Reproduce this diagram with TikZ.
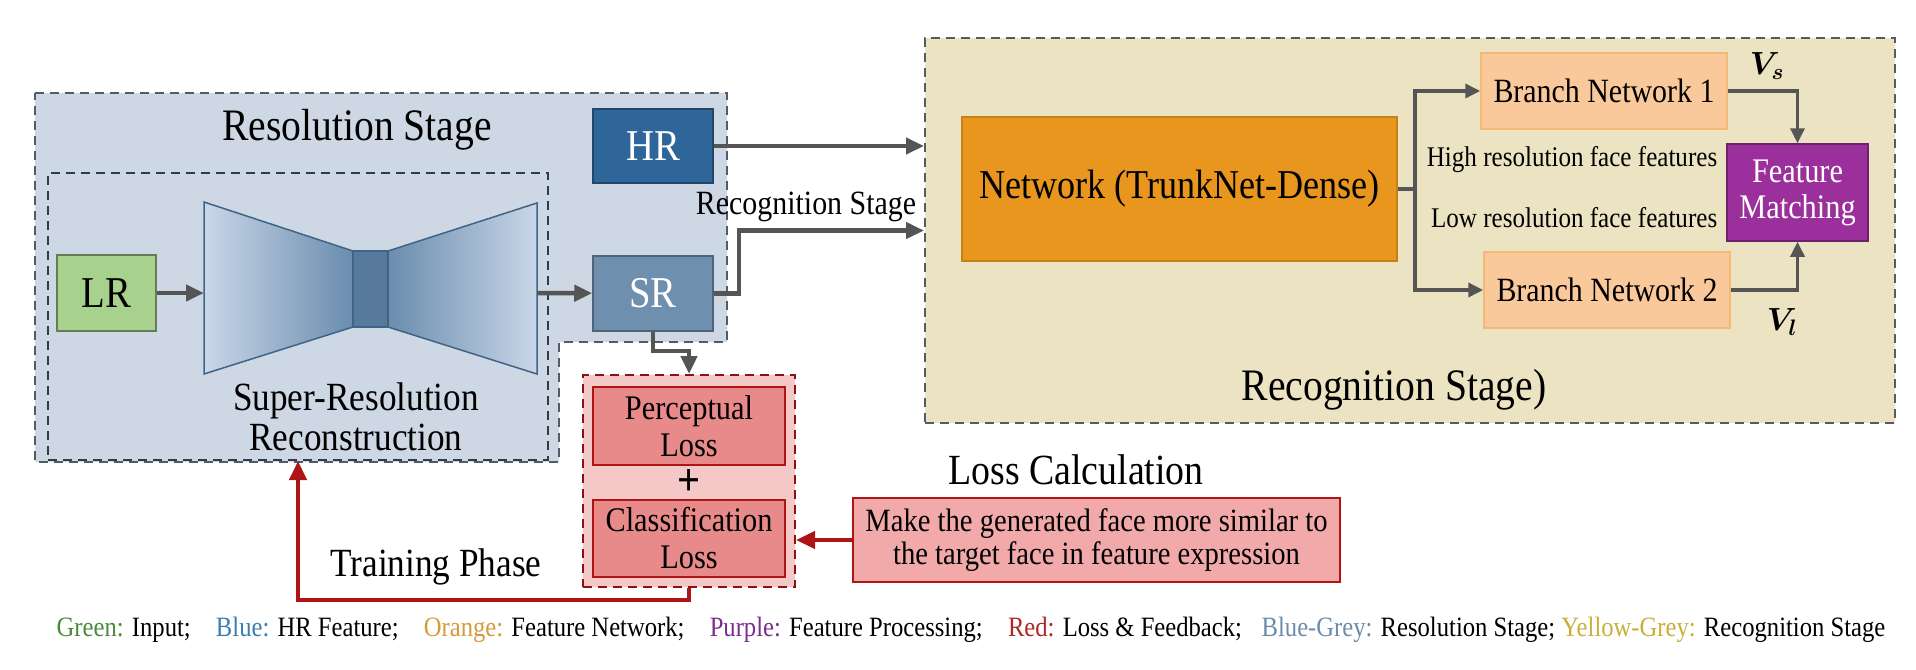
\RequirePackage{fix-cm}
\documentclass[tikz,border=0pt]{standalone}
\usepackage{fontspec}
\setmainfont{Liberation Serif}[FakeStretch=0.88]
\usepackage{bm}
\usetikzlibrary{arrows.meta, positioning, calc}
\definecolor{cresfill}{HTML}{CDD8E4}
\definecolor{crecfill}{HTML}{ECE3C3}
\definecolor{cdash}{HTML}{555B62}
\definecolor{cdashin}{HTML}{2E3B4A}
\definecolor{chr}{HTML}{2F6699}
\definecolor{csr}{HTML}{6F8FAF}
\definecolor{clr}{HTML}{A9D18E}
\definecolor{ctrunk}{HTML}{E8961E}
\definecolor{cbranch}{HTML}{F9C89B}
\definecolor{cfm}{HTML}{9B2F9B}
\definecolor{closs}{HTML}{E88A8A}
\definecolor{clossgrp}{HTML}{F5C8C8}
\definecolor{cmsg}{HTML}{F2A9A9}
\definecolor{cred}{HTML}{B01515}
\definecolor{cgrey}{HTML}{555555}
\definecolor{cbowlight}{HTML}{C9D7E8}
\definecolor{cbowdark}{HTML}{6A8CAE}
\definecolor{cbowmid}{HTML}{56799C}
\definecolor{cbowedge}{HTML}{3F6486}
\definecolor{lgreen}{HTML}{4A8A3A}
\definecolor{lblue}{HTML}{3C7DB0}
\definecolor{lorange}{HTML}{D59A3A}
\definecolor{lpurple}{HTML}{7A2E8E}
\definecolor{lred}{HTML}{B02525}
\definecolor{lbluegrey}{HTML}{6A8BAA}
\definecolor{lyellowgrey}{HTML}{C9AE3C}
\newcommand{\fsz}[2]{\fontsize{#1}{#2}\selectfont}
\tikzset{
  every picture/.style={line width=1.5pt},
  box/.style={draw=#1!70!black, fill=#1, inner sep=0pt, align=center, line width=1.5pt},
  stage/.style={draw=cdash, dash pattern=on 9pt off 6pt, line width=2pt},
  txt/.style={inner sep=0pt, align=center, font=\fsz{#1}{#1}},
  arrow/.style={-{Triangle[length=18pt, width=16pt]}, draw=cgrey, line width=4.5pt},
  branch/.style={-{Triangle[length=15pt, width=14pt]}, draw=cgrey, line width=3.5pt},
  feedback/.style={-{Triangle[length=19pt, width=17pt]}, draw=cred, line width=4.5pt},
}

\begin{document}
\begin{tikzpicture}[x=1pt, y=-1pt]
  \useasboundingbox (0,0) rectangle (1916,669);
  % resolution stage
  \draw[stage, fill=cresfill] (35,93) -- (727,93) -- (727,342) -- (559,342) -- (559,462) -- (35,462) -- cycle;
  \node[stage, draw=cdashin, fill=cresfill, minimum width=500pt, minimum height=287pt] (srrec) at (298,316.5) {};
  \node[txt=45] (restitle) at (357,130) {Resolution Stage};
  \node[box=clr, draw=clr!60!black, minimum width=99pt, minimum height=76pt, font=\fsz{44}{44}] (lr) at (106.5,293) {LR};
  \shadedraw[left color=cbowlight, right color=cbowdark, draw=cbowedge] (204,202) -- (353,251) -- (353,327) -- (204,374) -- cycle;
  \filldraw[fill=cbowmid, draw=cbowedge] (353,251) rectangle (388,327);
  \shadedraw[left color=cbowdark, right color=cbowlight, draw=cbowedge] (388,251) -- (537,203) -- (537,374) -- (388,327) -- cycle;
  \coordinate (bwin) at (204,293);
  \coordinate (bwout) at (537,293);
  \node[txt=40, font=\fsz{40}{40}] (srtext) at (356,417) {Super-Resolution\\Reconstruction};
  \node[box=chr, minimum width=120pt, minimum height=74pt, text=white, font=\fsz{44}{44}] (hr) at (653,146) {HR};
  \node[box=csr, minimum width=120pt, minimum height=75pt, text=white, font=\fsz{44}{44}] (sr) at (653,293.5) {SR};
  \draw[arrow] (lr) -- (bwin);
  \draw[arrow] (bwout) -- (sr);

  \node[stage, fill=crecfill, minimum width=970pt, minimum height=385pt] (recog) at (1410,230.5) {};
  \node[txt=34] (midtitle) at (806,207) {Recognition Stage};
  \draw[arrow] (hr.east) -- (recog.west |- hr.east);
  \draw[arrow] (sr.east) -- ++(25,0) |- (recog.west);

  \node[box=ctrunk, draw=ctrunk!85!black, minimum width=435pt, minimum height=144pt, font=\fsz{41}{41}] (trunk) at (1179.5,189) {Network (TrunkNet-Dense)};
  \node[box=cbranch, draw=cbranch!70!ctrunk, minimum width=246pt, minimum height=76pt, font=\fsz{34}{34}] (br1) at (1604,91) {Branch Network 1};
  \node[box=cbranch, draw=cbranch!70!ctrunk, minimum width=246pt, minimum height=76pt, font=\fsz{34}{34}] (br2) at (1607,290) {Branch Network 2};
  \node[box=cfm, minimum width=141pt, minimum height=97pt, text=white, font=\fsz{34.5}{36}] (fm) at (1797.5,192.5) {Feature\\Matching};
  \draw[branch] (trunk.east) -- ++(17,0) coordinate (fork) |- (br1.west);
  \draw[branch] (fork) |- (br2.west);
  \draw[branch] (br1.east) -| (fm.north);
  \draw[branch] (br2.east) -| (fm.south);
  \node[txt=28.5, anchor=east] (hifeat) at (1718,160) {High resolution face features};
  \node[txt=28.5, anchor=east] (lofeat) at (1718,218) {Low resolution face features};
  \node[txt=32] (vs) at (1767,66) {$\bm{V_s}$};
  \node[txt=32] (vl) at (1782,322) {$\bm{V_l}$};
  \node[txt=45] (rectitle) at (1394,390) {Recognition Stage)};

  \node[stage, draw=cred!80!black, fill=clossgrp, minimum width=212pt, minimum height=212pt] (lossgrp) at (689,481) {};
  \node[box=closs, draw=cred, minimum width=192pt, minimum height=78pt, font=\fsz{34.5}{37}] (ploss) at (689,426) {Perceptual\\Loss};
  \node[txt=46] (plus) at (689,483) {\textbf{+}};
  \node[box=closs, draw=cred, minimum width=192pt, minimum height=77pt, font=\fsz{34.5}{37}] (closs) at (689,538.5) {Classification\\Loss};
  \draw[arrow] (sr.south) -- ++(0,19) -| (lossgrp.north);
  \node[txt=43] (losscalc) at (1076,470) {Loss Calculation};
  \node[box=cmsg, draw=cred, minimum width=487pt, minimum height=84pt, font=\fsz{32.5}{33}] (msg) at (1096.5,540) {Make the generated face more similar to\\the target face in feature expression};
  \draw[feedback] (msg.west) -- (lossgrp.east |- msg.west);
  \draw[feedback] (lossgrp.south) -- ++(0,12) -| (srrec.south);
  \node[txt=40] (training) at (436,567) {Training Phase};

  \node[txt=28] (legend) at (971,630) {\textcolor{lgreen}{Green:} Input;\hspace{0.9em}\textcolor{lblue}{Blue:} HR Feature;\hspace{0.9em}\textcolor{lorange}{Orange:} Feature Network;\hspace{0.9em}\textcolor{lpurple}{Purple:} Feature Processing;\hspace{0.9em}\textcolor{lred}{Red:} Loss \& Feedback;\hspace{0.7em}\textcolor{lbluegrey}{Blue-Grey:} Resolution Stage; \textcolor{lyellowgrey}{Yellow-Grey:} Recognition Stage};
\end{tikzpicture}
\end{document}
